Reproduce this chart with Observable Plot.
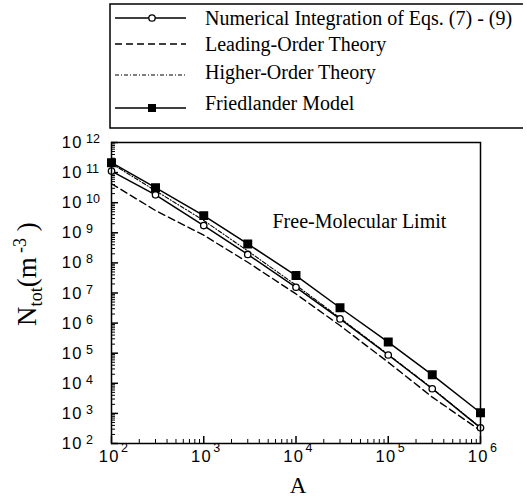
<!DOCTYPE html>
<html>
<head>
<meta charset="utf-8">
<script src="https://cdn.jsdelivr.net/npm/d3@7"></script>
<script src="https://cdn.jsdelivr.net/npm/@observablehq/plot@0.6"></script>
<style>
  html, body { margin: 0; padding: 0; background: #fff; overflow: hidden; }
  #chart { width: 527px; height: 497px; }
</style>
</head>
<body>
<div id="chart"></div>
<script>
// ---- data ----
const A = [100, 300, 1000, 3000, 10000, 30000, 100000, 300000, 1000000];
const numerical   = [1.12e11, 1.82e10, 1.74e9, 1.91e8, 1.55e7, 1.38e6, 8.7e4, 6.6e3, 331];
const leading     = [4.27e10, 5.5e9, 8.3e8, 1.05e8, 9.3e6, 8.3e5, 5.0e4, 3.47e3, 269];
const higher      = [2.0e11, 2.5e10, 2.57e9, 2.5e8, 1.82e7, 1.48e6, 9.1e4, 6.8e3, 339];
const friedlander = [2.14e11, 3.16e10, 3.72e9, 4.27e8, 3.8e7, 3.24e6, 2.34e5, 1.91e4, 1.05e3];

const xMajor = [1e2, 1e3, 1e4, 1e5, 1e6];
const yMajor = [1e2, 1e3, 1e4, 1e5, 1e6, 1e7, 1e8, 1e9, 1e10, 1e11, 1e12];
const minorMult = [2, 3, 4, 5, 6, 7, 8, 9];

const legendLabels = [
  "Numerical Integration of Eqs. (7) - (9)",
  "Leading-Order Theory",
  "Higher-Order Theory",
  "Friedlander Model"
];
const annotation = "Free-Molecular Limit";

// ---- tables ----
const mk = (vals) => A.map((a, i) => ({A: a, N: vals[i]}));
const dNum = mk(numerical), dLead = mk(leading), dHigh = mk(higher), dFried = mk(friedlander);
const xMinor = xMajor.slice(0, -1).flatMap(d => minorMult.map(m => d * m));
const yMinor = yMajor.slice(0, -1).flatMap(d => minorMult.map(m => d * m));

const sans = "'Liberation Sans', Arial, sans-serif";
const serif = "'Liberation Serif', 'Times New Roman', serif";

const chart = Plot.plot({
  width: 527,
  height: 497,
  marginLeft: 111,
  marginRight: 47,
  marginTop: 142,
  marginBottom: 54,
  style: {fontFamily: sans, background: "#fff", color: "#000"},
  x: {type: "log", domain: [1e2, 1e6]},
  y: {type: "log", domain: [1e2, 1e12]},
  marks: [
    Plot.axisX(xMajor, {tickSize: -7, tickFormat: () => "", label: null, strokeWidth: 1.5}),
    Plot.axisX(xMinor, {tickSize: -4, tickFormat: () => "", label: null}),
    Plot.axisY(yMajor, {tickSize: -7, tickFormat: () => "", label: null, strokeWidth: 1.5}),
    Plot.axisY(yMinor, {tickSize: -4, tickFormat: () => "", label: null}),
    // series
    Plot.line(dLead, {x: "A", y: "N", stroke: "#000", strokeWidth: 1.4, strokeDasharray: "7,4"}),
    Plot.line(dHigh, {x: "A", y: "N", stroke: "#000", strokeWidth: 1.1, strokeDasharray: "4,2,1,2"}),
    Plot.line(dNum, {x: "A", y: "N", stroke: "#000", strokeWidth: 1.5}),
    Plot.line(dFried, {x: "A", y: "N", stroke: "#000", strokeWidth: 1.5}),
    Plot.dot(dNum, {x: "A", y: "N", r: 3.2, fill: "#fff", stroke: "#000", strokeWidth: 1.3}),
    Plot.dot(dFried, {x: "A", y: "N", symbol: "square", r: 4.2, fill: "#000", stroke: "#000"}),
    Plot.frame({stroke: "#000", strokeWidth: 1.5}),
    Plot.text([annotation], {frameAnchor: "top-left", dx: 161, dy: 71, text: d => d,
      textAnchor: "start", fontSize: 20, fontFamily: serif, fill: "#000"})
  ]
});
document.getElementById("chart").appendChild(chart);

const svg = d3.select(chart);
const xs = chart.scale("x"), ys = chart.scale("y");

// ---- tick labels 10^n placed with the plot's own scales ----
const tl = svg.append("g").style("font-family", sans).attr("fill", "#000");
xMajor.forEach(v => {
  const px = xs.apply(v);
  tl.append("text").attr("x", px + 9).attr("y", 462)
    .style("text-anchor", "end").style("font-size", "16.5px").style("letter-spacing", "1.5px").text("10");
  tl.append("text").attr("x", px + 10).attr("y", 452)
    .style("text-anchor", "start").style("font-size", "12.5px").text(String(Math.round(Math.log10(v))));
});
yMajor.forEach(v => {
  const py = ys.apply(v);
  tl.append("text").attr("x", 83).attr("y", py + 6)
    .style("text-anchor", "end").style("font-size", "16.5px").style("letter-spacing", "1.5px").text("10");
  tl.append("text").attr("x", 86).attr("y", py + 1)
    .style("text-anchor", "start").style("font-size", "12.5px").text(String(Math.round(Math.log10(v))));
});

// ---- axis titles ----
const yl = svg.append("text")
  .attr("transform", "translate(36,274) rotate(-90)")
  .style("text-anchor", "middle")
  .style("font-family", serif).style("font-size", "27px").attr("fill", "#000");
yl.append("tspan").text("N");
yl.append("tspan").style("font-size", "18px").attr("dy", 6).text("tot");
yl.append("tspan").attr("dy", -6).text("(m");
yl.append("tspan").style("font-size", "18px").attr("dy", -10).text(" -3");
yl.append("tspan").attr("dy", 10).text(" )");

svg.append("text").attr("x", 298).attr("y", 493)
  .style("text-anchor", "middle").style("font-family", serif).style("font-size", "23px")
  .attr("fill", "#000").text("A");

// ---- legend (open on the right, as in the reference) ----
const lg = svg.append("g").attr("stroke", "#000").attr("stroke-width", 1.5);
lg.append("path").attr("d", "M523,4H110V128H523").attr("fill", "none");
const rowsY = [18, 44, 75, 108];
const textY = [25, 51, 79, 110];
const dashes = [null, "7,4", "4,2,1,2", null];
rowsY.forEach((yy, i) => {
  lg.append("line").attr("x1", 115).attr("x2", 186).attr("y1", yy).attr("y2", yy)
    .attr("stroke-width", i === 2 ? 1.1 : 1.5)
    .attr("stroke-dasharray", dashes[i]);
  if (i === 0) lg.append("circle").attr("cx", 152).attr("cy", yy).attr("r", 3.2)
    .attr("fill", "#fff").attr("stroke-width", 1.3);
  if (i === 3) lg.append("rect").attr("x", 148).attr("y", yy - 4).attr("width", 8).attr("height", 8)
    .attr("fill", "#000").attr("stroke", "none");
  lg.append("text").attr("x", 205).attr("y", textY[i]).attr("stroke", "none")
    .style("text-anchor", "start")
    .style("font-family", serif).style("font-size", "20px").attr("fill", "#000")
    .text(legendLabels[i]);
});
</script>
</body>
</html>
